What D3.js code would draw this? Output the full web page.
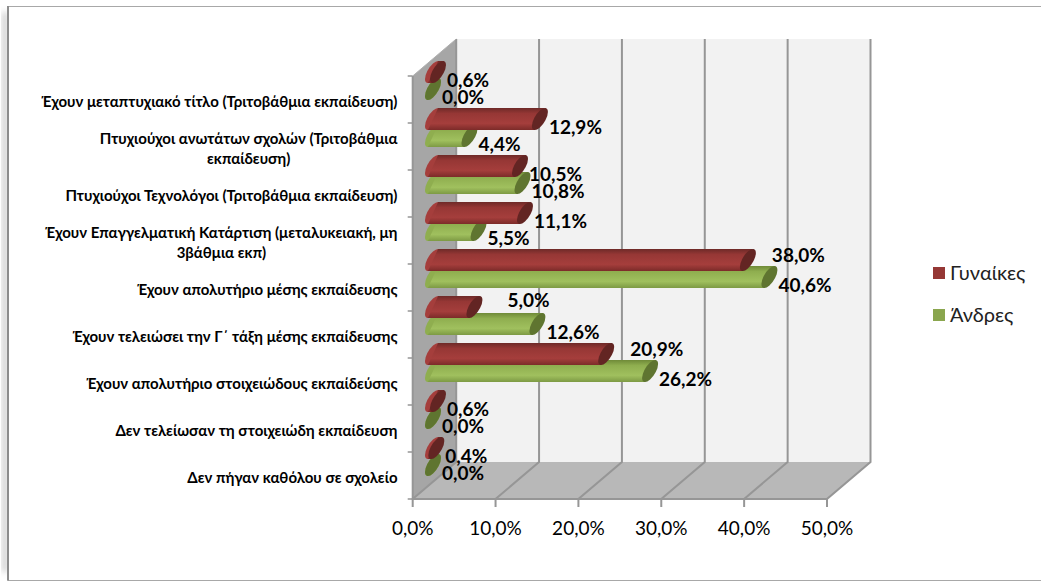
<!DOCTYPE html>
<html>

<head>
  <meta charset="utf-8">
  <script src="https://d3js.org/d3.v7.min.js"></script>
  <style>
    body { margin: 0; background: #fff; }
    text { font-family: Lato, "Open Sans", sans-serif; fill: #000; }
  </style>
</head>

<body>
  <div id="my_dataviz"></div>
  <script>
    // top row of the chart comes first
    var categories = [
      ["Έχουν μεταπτυχιακό τίτλο (Τριτοβάθμια εκπαίδευση)"],
      ["Πτυχιούχοι ανωτάτων σχολών (Τριτοβάθμια", "εκπαίδευση)"],
      ["Πτυχιούχοι Τεχνολόγοι (Τριτοβάθμια εκπαίδευση)"],
      ["Έχουν Επαγγελματική Κατάρτιση (μεταλυκειακή, μη", "3βάθμια εκπ)"],
      ["Έχουν απολυτήριο μέσης εκπαίδευσης"],
      ["Έχουν τελειώσει την Γ΄ τάξη μέσης εκπαίδευσης"],
      ["Έχουν απολυτήριο στοιχειώδους εκπαίδεύσης"],
      ["Δεν τελείωσαν τη στοιχειώδη εκπαίδευση"],
      ["Δεν πήγαν καθόλου σε σχολείο"]
    ];
    var women = [0.6, 12.9, 10.5, 11.1, 38.0, 5.0, 20.9, 0.6, 0.4];
    var men = [0.0, 4.4, 10.8, 5.5, 40.6, 12.6, 26.2, 0.0, 0.0];
    var xTicks = [0, 10, 20, 30, 40, 50];

    var svg = d3.select("#my_dataviz")
      .append("svg")
      .attr("width", 1042)
      .attr("height", 581)
      .style("display", "block");

    var defs = svg.append("defs");

    // soft shadow beside the frame
    var blur = defs.append("filter").attr("id", "soft")
      .attr("x", "-50%").attr("width", "200%");
    blur.append("feGaussianBlur").attr("stdDeviation", 3);

    function barGradient(id, stops) {
      var g = defs.append("linearGradient").attr("id", id)
        .attr("x1", 0).attr("y1", 0).attr("x2", 0).attr("y2", 1);
      stops.forEach(function (s) {
        g.append("stop").attr("offset", s[0]).attr("stop-color", s[1]);
      });
    }
    barGradient("redBody", [[0, "#6e2a28"], [0.25, "#963735"], [0.7, "#a53e3c"], [1, "#7c2b29"]]);
    barGradient("greenBody", [[0, "#6f8a38"], [0.25, "#8fae4f"], [0.7, "#a0c05e"], [1, "#7d9a44"]]);

    // frame
    svg.append("rect").attr("x", 3).attr("y", 12).attr("width", 4).attr("height", 560)
      .attr("fill", "#bbb").attr("filter", "url(#soft)");
    svg.append("path").attr("d", "M7.5,6.5H1041M1041,580.5H7.5")
      .attr("fill", "none").attr("stroke", "#a8a8a8").attr("stroke-width", 1.2);
    svg.append("path").attr("d", "M8,6V580.5")
      .attr("fill", "none").attr("stroke", "#8c8c8c").attr("stroke-width", 2);

    var x = d3.scaleLinear().domain([0, 50]).range([412.7, 827]);
    var y = d3.scaleBand().domain(d3.range(categories.length)).range([76, 499]);
    var depthX = 43.5, depthY = -37; // how far the back wall is pushed
    var top3d = y.range()[0], bottom = y.range()[1];

    // walls and floor
    var walls = svg.append("g");
    walls.append("path")
      .attr("d", d3.line()([[x(0) + depthX, top3d + depthY], [x(50) + depthX, top3d + depthY],
        [x(50) + depthX, bottom + depthY], [x(0) + depthX, bottom + depthY]]) + "Z")
      .attr("fill", "#f2f2f2");
    walls.append("path")
      .attr("d", d3.line()([[x(0), bottom], [x(0) + depthX, bottom + depthY],
        [x(50) + depthX, bottom + depthY], [x(50), bottom]]) + "Z")
      .attr("fill", "#b8b8b8");
    walls.append("path")
      .attr("d", d3.line()([[x(0), top3d], [x(0) + depthX, top3d + depthY],
        [x(0) + depthX, bottom + depthY], [x(0), bottom]]) + "Z")
      .attr("fill", "#a6a6a6");

    // grid lines run up the back wall and across the floor
    walls.selectAll("path.grid")
      .data(xTicks)
      .enter()
      .append("path")
      .attr("class", "grid")
      .attr("d", function (d) {
        return d3.line()([[x(d), bottom + 8], [x(d), bottom], [x(d) + depthX, bottom + depthY], [x(d) + depthX, top3d + depthY]]);
      })
      .attr("fill", "none")
      .attr("stroke", "#969696")
      .attr("stroke-width", 2);
    walls.append("path")
      .attr("d", "M" + x(0) + "," + top3d + "V" + bottom + "H" + x(50))
      .attr("fill", "none").attr("stroke", "#969696").attr("stroke-width", 2);
    walls.append("path")
      .attr("d", "M" + x(0) + "," + top3d + "L" + (x(0) + depthX) + "," + (top3d + depthY))
      .attr("fill", "none").attr("stroke", "#b0b0b0").attr("stroke-width", 1);

    // y ticks
    walls.selectAll("line.ytick")
      .data(d3.range(categories.length + 1))
      .enter()
      .append("line")
      .attr("class", "ytick")
      .attr("x1", x(0) - 5)
      .attr("x2", x(0))
      .attr("y1", function (d) { return top3d + d * y.step(); })
      .attr("y2", function (d) { return top3d + d * y.step(); })
      .attr("stroke", "#969696")
      .attr("stroke-width", 1.5);

    // x tick labels
    svg.selectAll("text.xlabel")
      .data(xTicks)
      .enter()
      .append("text")
      .attr("class", "xlabel")
      .attr("x", function (d) { return x(d); })
      .attr("y", 535)
      .attr("text-anchor", "middle")
      .style("font-size", "19px")
      .text(function (d) { return d.toFixed(1).replace(".", ",") + "%"; });

    // category labels: wrapped lines are centred on each other, block flush right at the axis
    var catRight = 397.5, catLine = 20;
    svg.selectAll("text.cat")
      .data(categories)
      .enter()
      .append("text")
      .attr("class", "cat")
      .attr("text-anchor", "middle")
      .style("font-size", "15px")
      .style("font-weight", "bold")
      .each(function (lines, i) {
        var midY = y(i) + y.bandwidth() / 2 + 7 - (lines.length - 1) * catLine / 2;
        var t = d3.select(this);
        var spans = lines.map(function (line, k) {
          return t.append("tspan").attr("y", midY + k * catLine).text(line);
        });
        var widest = d3.max(spans, function (s) { return s.node().getComputedTextLength(); });
        spans.forEach(function (s) { s.attr("x", catRight - widest / 2); });
      });

    // bars are cylinders lying along x, halfway into the depth
    var barOffsetX = 20.3, barOffsetY = -19, capDx = 8, capSkew = -7, capDy = 8.5, tangentX = 5.1, halfH = 11;
    var series = [
      { name: "men", values: men, shift: 8.5, body: "url(#greenBody)", cap: "#5f7530" },
      { name: "women", values: women, shift: -8.5, body: "url(#redBody)", cap: "#632523" }
    ];

    function cap(sel, cx, cy, fill) {
      sel.append("circle")
        .attr("r", 1)
        .attr("transform", "matrix(" + capDx + "," + capSkew + ",0," + capDy + "," + cx + "," + cy + ")")
        .attr("fill", fill);
    }

    var rows = svg.append("g");
    categories.forEach(function (c, i) {
      var rowY = y(i) + y.bandwidth() / 2 + barOffsetY;
      series.forEach(function (s) {
        var cy = rowY + s.shift;
        var x0 = x(0) + barOffsetX, x1 = x(s.values[i]) + barOffsetX;
        var g = rows.append("g").attr("class", "bar-" + s.name);
        cap(g, x0, cy, s.body === "url(#redBody)" ? "#a53e3c" : "#8fae4f");
        g.append("path")
          .attr("d", d3.line()([[x0 + tangentX, cy - halfH], [x1 + tangentX, cy - halfH],
            [x1 - tangentX, cy + halfH], [x0 - tangentX, cy + halfH]]) + "Z")
          .attr("fill", s.body);
        cap(g, x1, cy, s.cap);
      });
    });

    // value labels; three of them were dragged off their bars in the original
    var labelMoves = { "women-4": [15, -13], "women-5": [24, -15], "women-6": [15, -13] };
    series.forEach(function (s) {
      svg.selectAll("text.val-" + s.name)
        .data(s.values)
        .enter()
        .append("text")
        .attr("class", "val-" + s.name)
        .attr("x", function (d, i) {
          var m = labelMoves[s.name + "-" + i] || [0, 0];
          return x(d) + barOffsetX + capDx + 1 + m[0];
        })
        .attr("y", function (d, i) {
          var m = labelMoves[s.name + "-" + i] || [0, 0];
          return y(i) + y.bandwidth() / 2 + barOffsetY + s.shift + 15 + m[1];
        })
        .style("font-size", "19px")
        .style("font-weight", "bold")
        .text(function (d) { return d.toFixed(1).replace(".", ",") + "%"; });
    });

    // legend
    var legend = [{ name: "Γυναίκες", color: "#953735" }, { name: "Άνδρες", color: "#8aa64e" }];
    var legendY = d3.scalePoint().domain(legend.map(function (d) { return d.name; })).range([273, 315]);
    legend.forEach(function (d) {
      svg.append("rect")
        .attr("x", 933).attr("y", legendY(d.name) - 6)
        .attr("width", 12).attr("height", 12)
        .attr("fill", d.color);
      svg.append("text")
        .attr("x", 950).attr("y", legendY(d.name) + 7)
        .style("font-size", "20px")
        .style("fill", "#222")
        .text(d.name);
    });
  </script>
</body>

</html>
